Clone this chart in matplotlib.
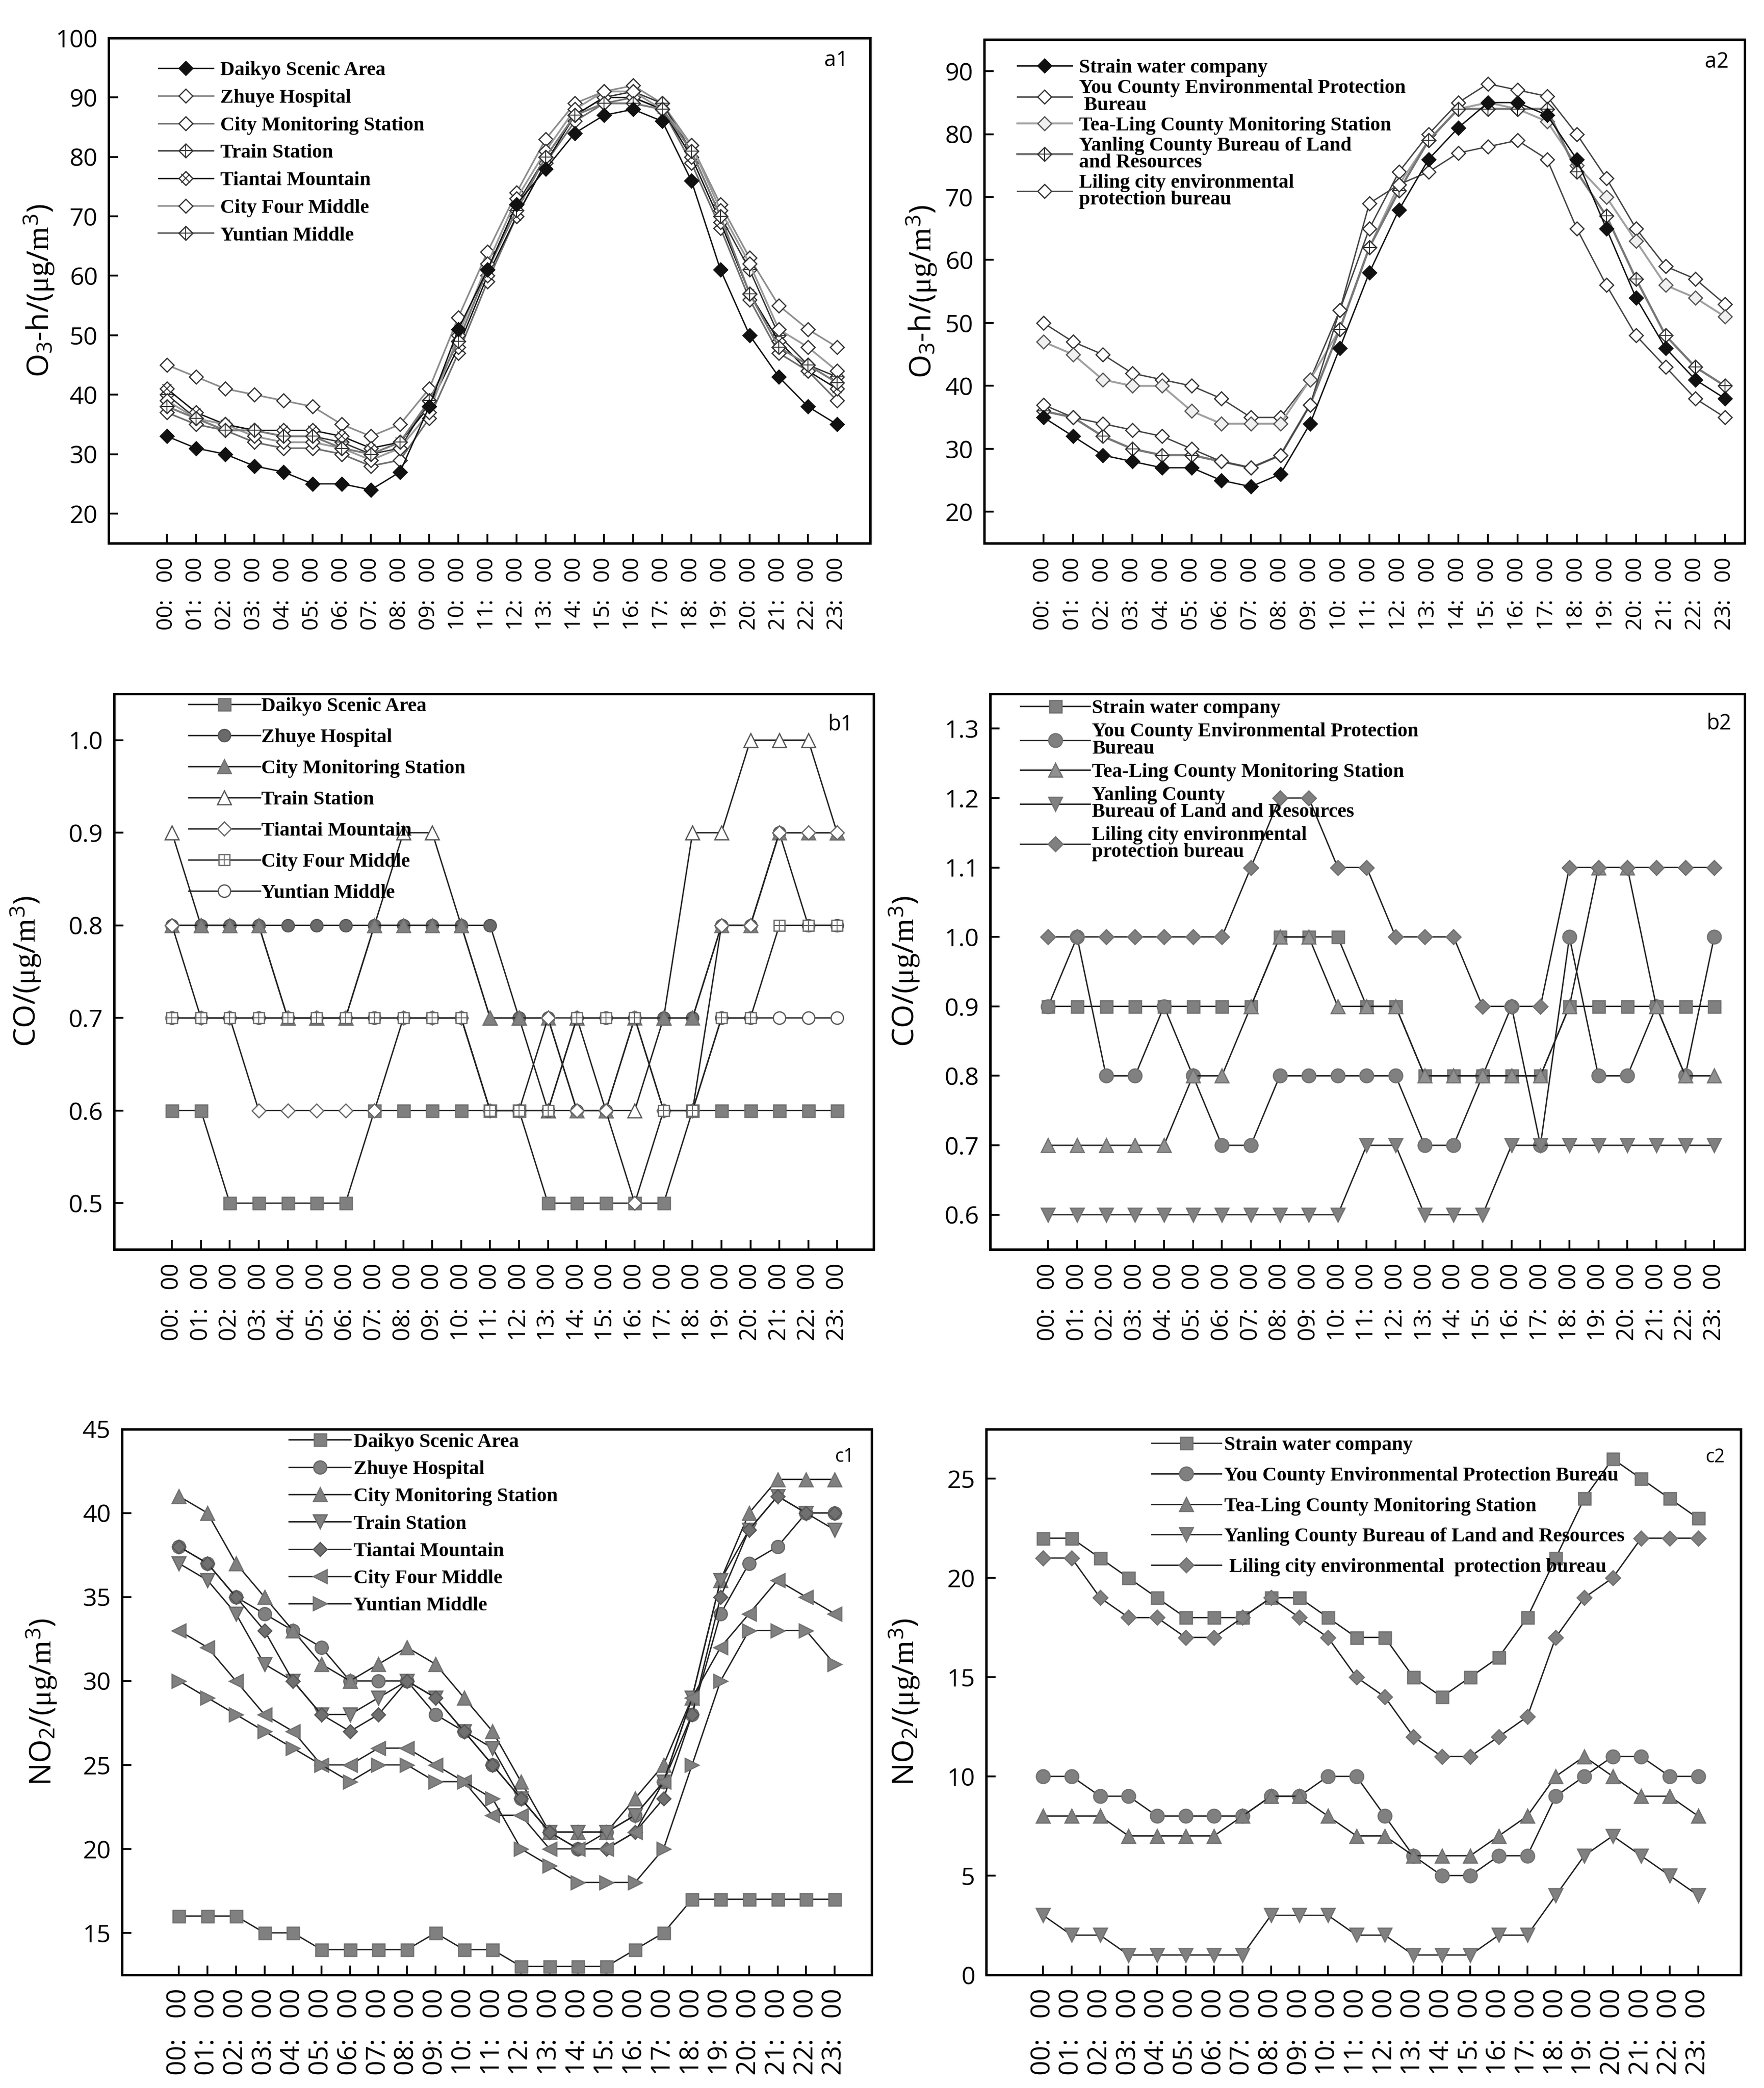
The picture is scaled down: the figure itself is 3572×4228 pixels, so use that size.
import matplotlib.pyplot as plt
from matplotlib.legend_handler import HandlerTuple

plt.rcParams["font.family"] = ["Open Sans", "DejaVu Sans"]
plt.rcParams["mathtext.fontset"] = "custom"
plt.rcParams["mathtext.rm"] = "Open Sans"
plt.rcParams["mathtext.it"] = "Liberation Serif"
plt.rcParams["mathtext.bf"] = "Open Sans:bold"

HOURS = list(range(24))
HOUR_LABELS = [f"{h:02d}:   00" for h in HOURS]

# ---- a1: O3-h, group 1
A1_NAMES = ["Daikyo Scenic Area", "Zhuye Hospital", "City Monitoring Station",
            "Train Station", "Tiantai Mountain", "City Four Middle", "Yuntian Middle"]
A1_DAIKYO = [33, 31, 30, 28, 27, 25, 25, 24, 27, 38, 51, 61, 72, 78, 84, 87, 88, 86, 76, 61, 50, 43, 38, 35]
A1_ZHUYE = [45, 43, 41, 40, 39, 38, 35, 33, 35, 41, 53, 64, 74, 83, 89, 91, 92, 89, 82, 72, 63, 55, 51, 48]
A1_CITYMON = [37, 35, 34, 32, 31, 31, 30, 28, 29, 36, 47, 59, 70, 79, 86, 89, 90, 88, 79, 68, 56, 47, 44, 39]
A1_TRAIN = [40, 36, 35, 34, 33, 33, 32, 30, 31, 39, 49, 61, 72, 80, 87, 90, 91, 89, 81, 70, 61, 50, 45, 43]
A1_TIANTAI = [41, 37, 35, 34, 34, 34, 33, 31, 32, 38, 48, 60, 70, 79, 87, 90, 90, 88, 80, 69, 57, 49, 44, 41]
A1_CITYFOUR = [39, 36, 35, 33, 32, 32, 31, 29, 31, 37, 50, 62, 73, 81, 88, 91, 91, 88, 82, 71, 62, 51, 48, 44]
A1_YUNTIAN = [38, 36, 34, 34, 33, 33, 31, 30, 32, 39, 49, 61, 71, 80, 87, 89, 89, 88, 81, 70, 57, 48, 45, 42]

# ---- a2: O3-h, group 2
A2_NAMES = ["Strain water company", "You County Environmental Protection\n Bureau",
            "Tea-Ling County Monitoring Station", "Yanling County Bureau of Land\nand Resources",
            "Liling city environmental\nprotection bureau"]
A2_STRAIN = [35, 32, 29, 28, 27, 27, 25, 24, 26, 34, 46, 58, 68, 76, 81, 85, 85, 83, 76, 65, 54, 46, 41, 38]
A2_YOU = [50, 47, 45, 42, 41, 40, 38, 35, 35, 41, 52, 65, 74, 80, 85, 88, 87, 86, 80, 73, 65, 59, 57, 53]
A2_TEALING = [47, 45, 41, 40, 40, 36, 34, 34, 34, 41, 49, 62, 72, 79, 84, 85, 84, 82, 75, 70, 63, 56, 54, 51]
A2_YANLING = [36, 35, 32, 30, 29, 29, 28, 27, 29, 37, 49, 62, 71, 79, 84, 84, 84, 84, 74, 67, 57, 48, 43, 40]
A2_LILING = [37, 35, 34, 33, 32, 30, 28, 27, 29, 37, 52, 69, 72, 74, 77, 78, 79, 76, 65, 56, 48, 43, 38, 35]

# ---- b1: CO, group 1
B1_DAIKYO = [0.6, 0.6, 0.5, 0.5, 0.5, 0.5, 0.5, 0.6, 0.6, 0.6, 0.6, 0.6, 0.6, 0.5, 0.5, 0.5, 0.5, 0.5, 0.6, 0.6, 0.6, 0.6, 0.6, 0.6]
B1_ZHUYE = [0.8, 0.8, 0.8, 0.8, 0.8, 0.8, 0.8, 0.8, 0.8, 0.8, 0.8, 0.8, 0.7, 0.7, 0.7, 0.7, 0.7, 0.7, 0.7, 0.8, 0.8, 0.9, 0.8, 0.8]
B1_CITYMON = [0.8, 0.8, 0.8, 0.8, 0.7, 0.7, 0.7, 0.8, 0.8, 0.8, 0.8, 0.7, 0.7, 0.7, 0.6, 0.6, 0.7, 0.7, 0.7, 0.8, 0.8, 0.9, 0.9, 0.9]
B1_TRAIN = [0.9, 0.8, 0.8, 0.8, 0.7, 0.7, 0.7, 0.8, 0.9, 0.9, 0.8, 0.7, 0.7, 0.6, 0.7, 0.6, 0.6, 0.7, 0.9, 0.9, 1.0, 1.0, 1.0, 0.9]
B1_TIANTAI = [0.8, 0.7, 0.7, 0.6, 0.6, 0.6, 0.6, 0.6, 0.7, 0.7, 0.7, 0.6, 0.6, 0.7, 0.6, 0.6, 0.5, 0.6, 0.6, 0.8, 0.8, 0.9, 0.9, 0.9]
B1_CITYFOUR = [0.7, 0.7, 0.7, 0.7, 0.7, 0.7, 0.7, 0.7, 0.7, 0.7, 0.7, 0.6, 0.6, 0.6, 0.7, 0.7, 0.7, 0.6, 0.6, 0.7, 0.7, 0.8, 0.8, 0.8]
B1_YUNTIAN = [0.7, 0.7, 0.7, 0.7, 0.7, 0.7, 0.7, 0.7, 0.7, 0.7, 0.7, 0.6, 0.6, 0.6, 0.6, 0.6, 0.7, 0.6, 0.6, 0.7, 0.7, 0.7, 0.7, 0.7]

# ---- b2: CO, group 2
B2_NAMES = ["Strain water company", "You County Environmental Protection\nBureau",
            "Tea-Ling County Monitoring Station", "Yanling County\nBureau of Land and Resources",
            "Liling city environmental\nprotection bureau"]
B2_STRAIN = [0.9, 0.9, 0.9, 0.9, 0.9, 0.9, 0.9, 0.9, 1.0, 1.0, 1.0, 0.9, 0.9, 0.8, 0.8, 0.8, 0.8, 0.8, 0.9, 0.9, 0.9, 0.9, 0.9, 0.9]
B2_YOU = [0.9, 1.0, 0.8, 0.8, 0.9, 0.8, 0.7, 0.7, 0.8, 0.8, 0.8, 0.8, 0.8, 0.7, 0.7, 0.8, 0.9, 0.7, 1.0, 0.8, 0.8, 0.9, 0.8, 1.0]
B2_TEALING = [0.7, 0.7, 0.7, 0.7, 0.7, 0.8, 0.8, 0.9, 1.0, 1.0, 0.9, 0.9, 0.9, 0.8, 0.8, 0.8, 0.8, 0.8, 0.9, 1.1, 1.1, 0.9, 0.8, 0.8]
B2_YANLING = [0.6, 0.6, 0.6, 0.6, 0.6, 0.6, 0.6, 0.6, 0.6, 0.6, 0.6, 0.7, 0.7, 0.6, 0.6, 0.6, 0.7, 0.7, 0.7, 0.7, 0.7, 0.7, 0.7, 0.7]
B2_LILING = [1.0, 1.0, 1.0, 1.0, 1.0, 1.0, 1.0, 1.1, 1.2, 1.2, 1.1, 1.1, 1.0, 1.0, 1.0, 0.9, 0.9, 0.9, 1.1, 1.1, 1.1, 1.1, 1.1, 1.1]

# ---- c1: NO2, group 1
C1_DAIKYO = [16, 16, 16, 15, 15, 14, 14, 14, 14, 15, 14, 14, 13, 13, 13, 13, 14, 15, 17, 17, 17, 17, 17, 17]
C1_ZHUYE = [38, 37, 35, 34, 33, 32, 30, 30, 30, 28, 27, 25, 23, 21, 20, 21, 22, 24, 28, 34, 37, 38, 40, 40]
C1_CITYMON = [41, 40, 37, 35, 33, 31, 30, 31, 32, 31, 29, 27, 24, 21, 21, 21, 23, 25, 29, 36, 40, 42, 42, 42]
C1_TRAIN = [37, 36, 34, 31, 30, 28, 28, 29, 30, 29, 27, 26, 23, 21, 21, 21, 22, 24, 29, 36, 39, 41, 40, 39]
C1_TIANTAI = [38, 37, 35, 33, 30, 28, 27, 28, 30, 29, 27, 25, 23, 21, 20, 20, 21, 23, 28, 35, 39, 41, 40, 40]
C1_CITYFOUR = [33, 32, 30, 28, 27, 25, 25, 26, 26, 25, 24, 22, 22, 20, 20, 20, 21, 24, 29, 32, 34, 36, 35, 34]
C1_YUNTIAN = [30, 29, 28, 27, 26, 25, 24, 25, 25, 24, 24, 23, 20, 19, 18, 18, 18, 20, 25, 30, 33, 33, 33, 31]

# ---- c2: NO2, group 2
C2_NAMES = ["Strain water company", "You County Environmental Protection Bureau",
            "Tea-Ling County Monitoring Station", "Yanling County Bureau of Land and Resources",
            " Liling city environmental  protection bureau"]
C2_STRAIN = [22, 22, 21, 20, 19, 18, 18, 18, 19, 19, 18, 17, 17, 15, 14, 15, 16, 18, 21, 24, 26, 25, 24, 23]
C2_YOU = [10, 10, 9, 9, 8, 8, 8, 8, 9, 9, 10, 10, 8, 6, 5, 5, 6, 6, 9, 10, 11, 11, 10, 10]
C2_TEALING = [8, 8, 8, 7, 7, 7, 7, 8, 9, 9, 8, 7, 7, 6, 6, 6, 7, 8, 10, 11, 10, 9, 9, 8]
C2_YANLING = [3, 2, 2, 1, 1, 1, 1, 1, 3, 3, 3, 2, 2, 1, 1, 1, 2, 2, 4, 6, 7, 6, 5, 4]
C2_LILING = [21, 21, 19, 18, 18, 17, 17, 18, 19, 18, 17, 15, 14, 12, 11, 11, 12, 13, 17, 19, 20, 22, 22, 22]

GRAY = "#808080"
O3_LABEL = r"O$_3$-h/$\mathit{(\mu g/m}^{3}\mathit{)}$"
CO_LABEL = r"CO/$\mathit{(\mu g/m}^{3}\mathit{)}$"
NO2_LABEL = r"NO$_2$/$\mathit{(\mu g/m}^{3}\mathit{)}$"
LEGEND_FONT = {"family": "Liberation Serif", "weight": "bold", "size": 14.5}


def draw(ax, values, color="#222222", lw=1.0, marker="D", ms=7, mfc="white",
         mec="#333333", inner=None, inner_ms=None, zorder=2):
    line, = ax.plot(HOURS, values, color=color, lw=lw, marker=marker, ms=ms,
                    mfc=mfc, mec=mec, mew=0.9, zorder=zorder)
    if inner is None:
        return line
    extra, = ax.plot(HOURS, values, ls="none", marker=inner, ms=inner_ms,
                     mec=mec, mew=0.7, zorder=zorder)
    return (line, extra)


def setup(ax, ylim, yticks, yfmt, xlim, xfs, ylabel, label_x, tag, tag_xy, tag_fs):
    ax.set_xlim(*xlim)
    ax.set_ylim(*ylim)
    ax.set_xticks(HOURS)
    ax.set_xticklabels(HOUR_LABELS, rotation=90, fontsize=xfs)
    ax.set_yticks(yticks)
    ax.set_yticklabels([yfmt.format(v) for v in yticks], fontsize=18)
    ax.tick_params(direction="in", length=7, width=1.3, top=False, right=False)
    ax.tick_params(axis="x", pad=10)
    ax.tick_params(axis="y", pad=8)
    for spine in ax.spines.values():
        spine.set_linewidth(1.8)
    ax.set_ylabel(ylabel, fontsize=22)
    ax.yaxis.set_label_coords(label_x, 0.5)
    ax.text(tag_xy[0], tag_xy[1], tag, transform=ax.transAxes, ha="right",
            va="center", fontsize=tag_fs)


def add_legend(ax, handles, names, anchor, hl, htp, ls, linespacing=1.0):
    leg = ax.legend(handles, names, loc="upper left", bbox_to_anchor=anchor,
                    borderaxespad=0, borderpad=0, frameon=False, prop=LEGEND_FONT,
                    handlelength=hl, handletextpad=htp, labelspacing=ls,
                    handler_map={tuple: HandlerTuple(ndivide=1)})
    for t in leg.get_texts():
        t.set_linespacing(linespacing)
    return leg


fig = plt.figure(figsize=(3573 / 200, 4228 / 200), dpi=200)
ax_a1 = fig.add_axes([0.0616, 0.7398, 0.4316, 0.2420])
ax_a2 = fig.add_axes([0.5578, 0.7398, 0.4310, 0.2412])
ax_b1 = fig.add_axes([0.0647, 0.4016, 0.4304, 0.2661])
ax_b2 = fig.add_axes([0.5612, 0.4016, 0.4277, 0.2661])
ax_c1 = fig.add_axes([0.0691, 0.0542, 0.4249, 0.2614])
ax_c2 = fig.add_axes([0.5589, 0.0542, 0.4277, 0.2614])

# a1
h = [
    draw(ax_a1, A1_DAIKYO, color="#111111", mfc="#111111", mec="#111111", zorder=3),
    draw(ax_a1, A1_ZHUYE, color="#8c8c8c", lw=1.2),
    draw(ax_a1, A1_CITYMON, color="#6e6e6e", lw=1.2),
    draw(ax_a1, A1_TRAIN, color="#333333", inner="+", inner_ms=9.5),
    draw(ax_a1, A1_TIANTAI, color="#111111", inner="x", inner_ms=6.5),
    draw(ax_a1, A1_CITYFOUR, color="#9a9a9a", lw=1.3),
    draw(ax_a1, A1_YUNTIAN, color="#7a7a7a", lw=1.4, inner="+", inner_ms=9.5),
]
setup(ax_a1, (15, 100), list(range(20, 101, 10)), "{:d}", (-2.0, 24.14), 16,
      O3_LABEL, -0.069, "a1", (0.971, 0.955), 15.5)
add_legend(ax_a1, h, A1_NAMES, (0.0655, 0.954), 2.75, 0.35, 0.46)

# a2
h = [
    draw(ax_a2, A2_STRAIN, color="#111111", mfc="#111111", mec="#111111", zorder=3),
    draw(ax_a2, A2_YOU, color="#444444"),
    draw(ax_a2, A2_TEALING, color="#a0a0a0", lw=1.4, mfc="#f0f0f0", mec="#555555"),
    draw(ax_a2, A2_YANLING, color="#777777", lw=1.6, inner="+", inner_ms=9.5),
    draw(ax_a2, A2_LILING, color="#444444"),
]
setup(ax_a2, (15, 95), list(range(20, 91, 10)), "{:d}", (-2.0, 23.67), 16,
      O3_LABEL, -0.060, "a2", (0.979, 0.955), 15.5)
add_legend(ax_a2, h, A2_NAMES, (0.0435, 0.962), 2.75, 0.35, 0.1, 0.9)

# b1 (Train Station sits underneath the filled triangles)
h = [
    draw(ax_b1, B1_DAIKYO, marker="s", ms=9, mfc=GRAY, mec="#707070"),
    draw(ax_b1, B1_ZHUYE, marker="o", ms=9, mfc="#6a6a6a", mec="#555555"),
    draw(ax_b1, B1_CITYMON, marker="^", ms=10, mfc=GRAY, mec="#707070"),
    draw(ax_b1, B1_TRAIN, marker="^", ms=10, mfc="white", mec="#555555", zorder=1.9),
    draw(ax_b1, B1_TIANTAI, marker="D", ms=7, mfc="white", mec="#666666"),
    draw(ax_b1, B1_CITYFOUR, marker="s", ms=8, mfc="white", mec="#666666",
         inner="+", inner_ms=8),
    draw(ax_b1, B1_YUNTIAN, marker="o", ms=9, mfc="white", mec="#555555", zorder=1.95),
]
setup(ax_b1, (0.45, 1.05), [0.5, 0.6, 0.7, 0.8, 0.9, 1.0], "{:.1f}", (-2.0, 24.26), 17,
      CO_LABEL, -0.094, "b1", (0.973, 0.944), 15.5)
add_legend(ax_b1, h, A1_NAMES, (0.098, 0.994), 3.6, 0.05, 0.64)

# b2
h = [
    draw(ax_b2, B2_STRAIN, marker="s", ms=9, mfc=GRAY, mec="#707070"),
    draw(ax_b2, B2_YOU, marker="o", ms=10, mfc=GRAY, mec="#707070"),
    draw(ax_b2, B2_TEALING, marker="^", ms=10, mfc="#909090", mec="#707070"),
    draw(ax_b2, B2_YANLING, marker="v", ms=10, mfc=GRAY, mec="#707070"),
    draw(ax_b2, B2_LILING, marker="D", ms=7.5, mfc=GRAY, mec="#707070"),
]
setup(ax_b2, (0.55, 1.35), [0.6, 0.7, 0.8, 0.9, 1.0, 1.1, 1.2, 1.3], "{:.1f}", (-2.0, 24.06), 17,
      CO_LABEL, -0.091, "b2", (0.982, 0.946), 15.5)
add_legend(ax_b2, h, B2_NAMES, (0.04, 0.99), 3.5, 0.1, 0.25, 0.9)

# c1
h = [
    draw(ax_c1, C1_DAIKYO, marker="s", ms=9, mfc=GRAY, mec="#707070"),
    draw(ax_c1, C1_ZHUYE, marker="o", ms=9.5, mfc=GRAY, mec="#666666"),
    draw(ax_c1, C1_CITYMON, marker="^", ms=10, mfc=GRAY, mec="#707070"),
    draw(ax_c1, C1_TRAIN, marker="v", ms=10, mfc=GRAY, mec="#666666"),
    draw(ax_c1, C1_TIANTAI, marker="D", ms=7, mfc="#707070", mec="#555555"),
    draw(ax_c1, C1_CITYFOUR, marker="<", ms=10, mfc=GRAY, mec="#707070"),
    draw(ax_c1, C1_YUNTIAN, marker=">", ms=10, mfc=GRAY, mec="#707070"),
]
setup(ax_c1, (12.5, 45), [15, 20, 25, 30, 35, 40, 45], "{:d}", (-2.0, 24.3), 19,
      NO2_LABEL, -0.084, "c1", (0.977, 0.949), 13.5)
add_legend(ax_c1, h, A1_NAMES, (0.223, 0.993), 3.1, 0.15, 0.45)

# c2
h = [
    draw(ax_c2, C2_STRAIN, marker="s", ms=9, mfc=GRAY, mec="#707070"),
    draw(ax_c2, C2_YOU, marker="o", ms=10, mfc=GRAY, mec="#707070"),
    draw(ax_c2, C2_TEALING, marker="^", ms=10, mfc=GRAY, mec="#707070"),
    draw(ax_c2, C2_YANLING, marker="v", ms=10, mfc=GRAY, mec="#707070"),
    draw(ax_c2, C2_LILING, marker="D", ms=7.5, mfc=GRAY, mec="#707070"),
]
setup(ax_c2, (0, 27.5), [0, 5, 10, 15, 20, 25], "{:d}", (-2.0, 24.5), 19,
      NO2_LABEL, -0.086, "c2", (0.979, 0.948), 13.5)
add_legend(ax_c2, h, C2_NAMES, (0.219, 0.987), 3.5, 0.15, 0.61)

fig.savefig("out.png", dpi=200)
plt.close(fig)
